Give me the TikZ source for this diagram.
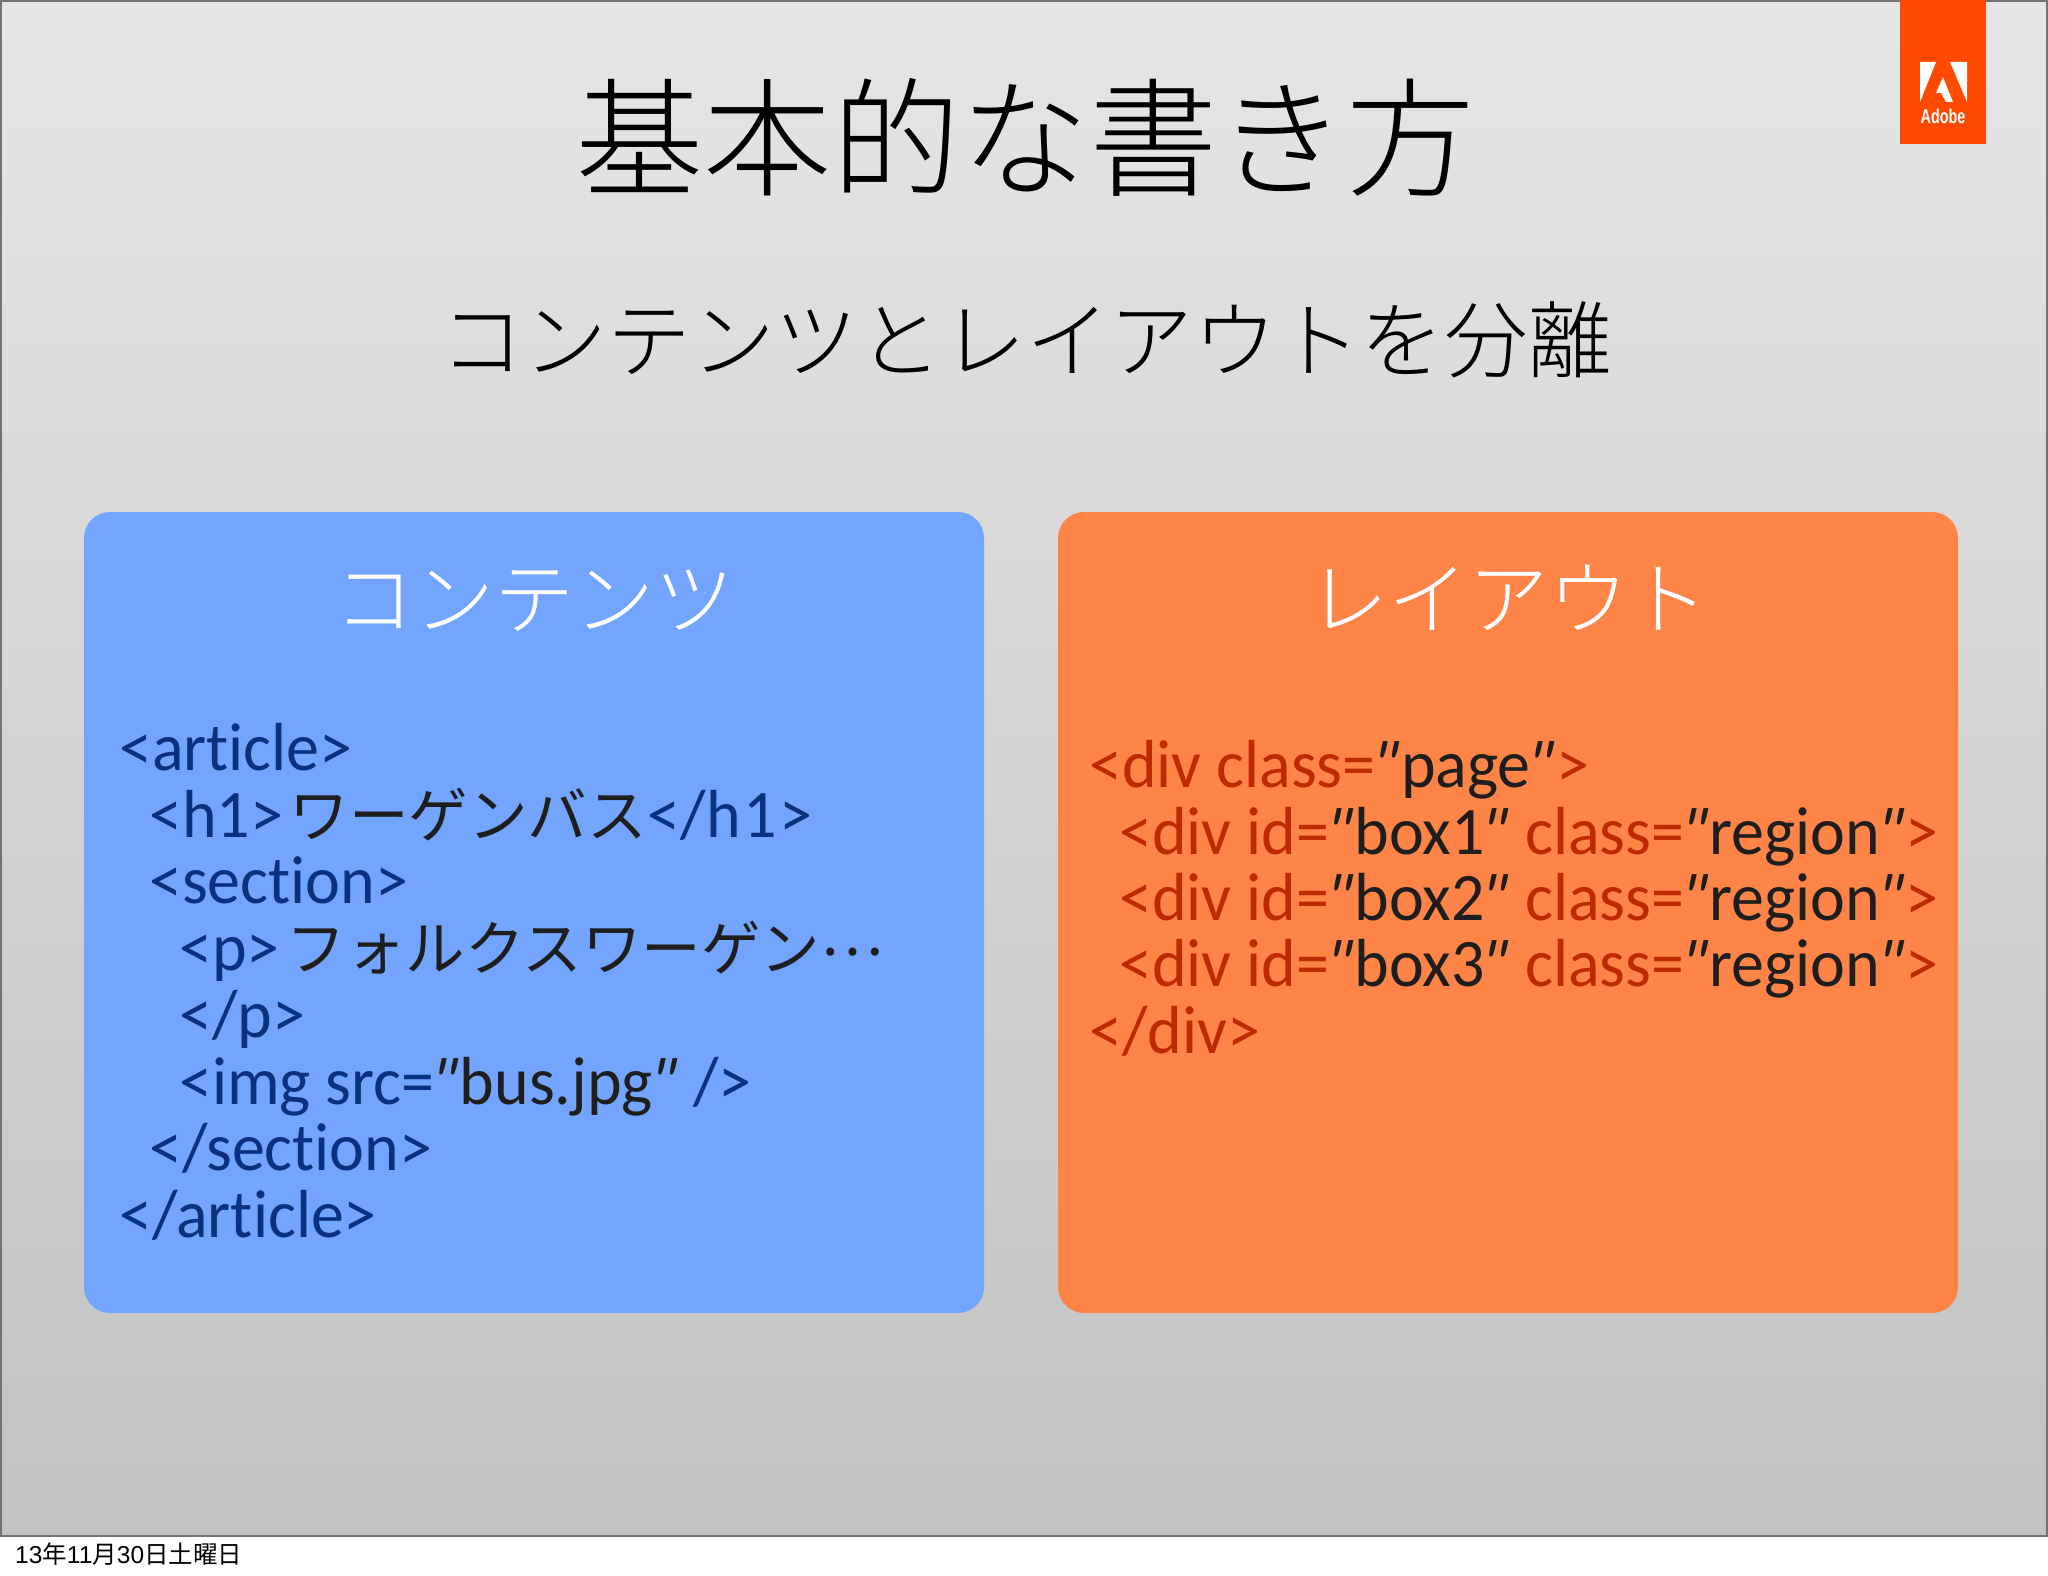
\documentclass[tikz,border=0pt]{standalone}
\usepackage{fontspec}
\usepackage{graphicx}
\setmainfont[Ligatures=NoCommon,FakeStretch=0.97]{Carlito}
\newfontfamily\qfont[FakeSlant=0.22,FakeStretch=0.97]{Carlito}
\newfontfamily\cjkthin{Noto Sans CJK JP Light}
\newfontfamily\cjkreg{Noto Sans CJK JP}
\newfontfamily\helv{Liberation Sans}
\definecolor{bluebox}{HTML}{73A5FF}
\definecolor{orangebox}{HTML}{FF8447}
\definecolor{bluetext}{HTML}{0A3080}
\definecolor{redtext}{HTML}{BE2A00}
\definecolor{darktext}{HTML}{1E1E1E}
\definecolor{adobered}{HTML}{FF4A00}
\newcommand{\jp}[1]{{\cjkreg\fontsize{59.5}{59.5}\selectfont\color{darktext}#1}}
\newcommand{\qm}{\kern-8pt{\qfont"}\kern7pt}
\newcommand{\qd}[1]{{\color{darktext}\qm#1\qm}}
\tikzset{
 panel/.style={rounded corners=26pt,draw=none},
 code/.style={anchor=base west,inner sep=0pt,font=\fontsize{68}{68}\selectfont},
 heading/.style={anchor=base,inner sep=0pt,text=white,font=\cjkthin\fontsize{80}{80}\selectfont},
}
\begin{document}
\begin{tikzpicture}[x=1pt,y=-1pt]
\useasboundingbox (0,0) rectangle (2048,1576);
\fill[white] (0,0) rectangle (2048,1576);
\shade[top color=black!10,bottom color=black!24,draw=black!55,line width=2pt] (1,1) rectangle (2047,1536);
\fill[bluebox,panel] (84,512) rectangle (984,1313);
\fill[orangebox,panel] (1058,512) rectangle (1958,1313);
\fill[adobered] (1900,0) rectangle (1986,144);
\fill[white] (1920,62) -- (1936,62) -- (1920,102) -- cycle;
\fill[white] (1950,62) -- (1967,62) -- (1967,102) -- cycle;
\fill[white] (1943,77) -- (1953,102) -- (1946,102) -- (1941,93) -- (1936,93) -- cycle;
\node[anchor=base,inner sep=0pt,text=white,font=\helv\bfseries\fontsize{20}{20}\selectfont] (logo) at (1943,124) {\scalebox{.72}[1]{Adobe}};
\node[anchor=base,inner sep=0pt,text=black,font=\cjkthin\fontsize{128.5}{128.5}\selectfont] (title) at (1025,186) {基本的な書き方};
\node[anchor=base,inner sep=0pt,text=black,font=\cjkthin\fontsize{83.7}{83.7}\selectfont] (sub) at (1026,371) {コンテンツとレイアウトを分離};
\node[heading] (h1) at (534,628) {コンテンツ};
\node[heading] (h2) at (1508,628) {レイアウト};
\begin{scope}[text=bluetext]
\node[code] (a1) at (119,770) {<article>};
\node[code] (a2) at (149,837) {<h1>\kern7pt\jp{ワーゲンバス}\kern1pt</h\kern3pt 1\kern2pt>};
\node[code] (a3) at (149,903) {<section>};
\node[code] (a4) at (179,970) {<p>\kern7pt\jp{フォルクスワーゲン\raisebox{15pt}{⋯}}};
\node[code] (a5) at (179,1037) {</p>};
\node[code] (a6) at (179,1104) {<img src=\qd{bus.jpg} />};
\node[code] (a7) at (149,1170) {</section>};
\node[code] (a8) at (119,1237) {</article>};
\end{scope}
\begin{scope}[text=redtext]
\node[code] (b1) at (1089,787) {<div class=\qd{page}>};
\node[code] (b2) at (1119,854) {<div id=\qd{box1} class=\qd{region}>};
\node[code] (b3) at (1119,920) {<div id=\qd{box2} class=\qd{region}>};
\node[code] (b4) at (1119,986) {<div id=\qd{box3} class=\qd{region}>};
\node[code] (b5) at (1089,1053) {</div>};
\end{scope}
\node[anchor=base west,inner sep=0pt,text=black,font=\helv\fontsize{24.5}{24.5}\selectfont] (date) at (15,1563) {13{\cjkreg 年}11{\cjkreg 月}30{\cjkreg 日土曜日}};
\end{tikzpicture}
\end{document}
